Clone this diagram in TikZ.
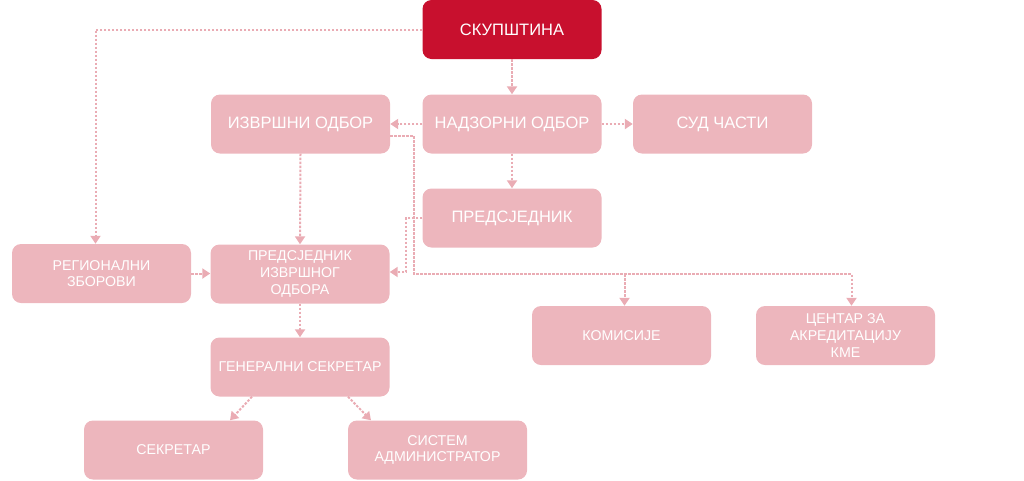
\documentclass[tikz,border=0pt]{standalone}
\usepackage{fontspec}
\setmainfont{Liberation Sans}
\usetikzlibrary{arrows.meta}
\definecolor{darkred}{HTML}{C8102E}
\definecolor{lightpink}{HTML}{EDB6BD}
\definecolor{linepink}{HTML}{EAACB4}
\tikzset{
  box/.style={fill=lightpink, rounded corners=9pt, minimum width=179pt, minimum height=59pt,
    text=white, align=center, inner sep=2pt, font=\fontsize{14.2}{16.7}\selectfont},
  bigbox/.style={box, font=\fontsize{16.5}{19}\selectfont},
  topbox/.style={bigbox, fill=darkred},
  conn/.style={draw=linepink, line width=2pt, dash pattern=on 2.5pt off 1.5pt},
  arr/.style={conn, -{Triangle[width=10pt,length=8pt,fill=linepink,sep=0pt]}, shorten >=0pt}
}
\begin{document}
\begin{tikzpicture}[x=1pt,y=-1pt]
\useasboundingbox (0,0) rectangle (1024,480);
\node[topbox] (sk) at (512,29.5) {СКУПШТИНА};
\node[bigbox] (izv) at (300.5,124) {ИЗВРШНИ ОДБОР};
\node[bigbox] (nad) at (512,124) {НАДЗОРНИ ОДБОР};
\node[bigbox] (sud) at (722.5,124) {СУД ЧАСТИ};
\node[bigbox] (pred) at (512,218) {ПРЕДСЈЕДНИК};
\node[box] (reg) at (101.5,273.5) {РЕГИОНАЛНИ\\ЗБОРОВИ};
\node[box] (pio) at (300,274) {ПРЕДСЈЕДНИК\\ИЗВРШНОГ\\ОДБОРА};
\node[box] (kom) at (621.5,335.5) {КОМИСИЈЕ};
\node[box] (cen) at (845.5,335.5) {ЦЕНТАР ЗА\\АКРЕДИТАЦИЈУ\\КМЕ};
\node[box] (gen) at (300,367) {ГЕНЕРАЛНИ СЕКРЕТАР};
\node[box] (sek) at (173.5,450) {СЕКРЕТАР};
\node[box] (sis) at (437.5,450) {СИСТЕМ\\АДМИНИСТРАТОР};

\coordinate (j1) at (414,274);
\coordinate (j2) at (406,272);

\draw[arr] (sk.west) -| ([xshift=-6pt]reg.north);
\draw[arr] (sk.south) -- (nad.north);
\draw[arr] (nad.west) -- (izv.east);
\draw[arr] (nad.east) -- (sud.west);
\draw[arr] (nad.south) -- (pred.north);
\draw[arr] (izv.south) -- (pio.north);
\draw[arr] (pred.west) -| (j2) -- (j2 -| pio.east);
\draw[arr] ([yshift=-12pt]izv.east) -| (j1) -| ([xshift=6pt]cen.north);
\draw[arr] ([xshift=3pt]kom.north |- j1) -- ([xshift=3pt]kom.north);
\draw[arr] (reg.east) -- (reg.east -| pio.west);
\draw[arr] (pio.south) -- (gen.north);
\draw[arr] ([xshift=-48pt]gen.south) -- ([xshift=56.5pt]sek.north);
\draw[arr] ([xshift=48pt]gen.south) -- ([xshift=-66.5pt]sis.north);
\end{tikzpicture}
\end{document}
